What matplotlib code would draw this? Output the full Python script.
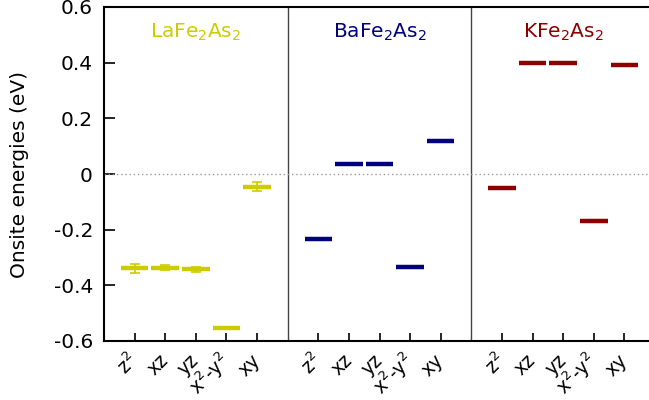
import matplotlib
matplotlib.use("Agg")
import matplotlib.pyplot as plt
import numpy as np

orbitals = ["z$^2$", "xz", "yz", "x$^2$-y$^2$", "xy"]
compounds = ["LaFe$_2$As$_2$", "BaFe$_2$As$_2$", "KFe$_2$As$_2$"]
colors = ["#cccc00", "#00007f", "#8b0000"]

la_vals = [-0.338, -0.336, -0.342, -0.552, -0.045]
la_err = [0.016, 0.009, 0.009, 0.0, 0.017]
ba_vals = [-0.232, 0.035, 0.035, -0.334, 0.118]
k_vals = [-0.052, 0.400, 0.400, -0.170, 0.390]

values = [la_vals, ba_vals, k_vals]
errors = [la_err, None, None]

W, H = 649, 400
fig = plt.figure(figsize=(W / 100, H / 100), dpi=100)
left, right, top, bottom = 104, 655, 7, 341
ax = fig.add_axes([left / W, 1 - bottom / H, (right - left) / W, (bottom - top) / H])

fs = 14.5
positions = []
labels = []
for g in range(3):
    xs = np.arange(1, 6) + 6 * g
    ax.hlines(values[g], xs - 0.45, xs + 0.45, colors=colors[g], lw=3.2, zorder=3)
    if errors[g] is not None:
        ax.errorbar(xs, values[g], yerr=errors[g], fmt="none", ecolor=colors[g],
                    elinewidth=1.2, capsize=3.3, capthick=1.2, zorder=3)
    ax.text(3 + 6 * g, 0.51, compounds[g], color=colors[g], ha="center", va="center",
            fontsize=fs)
    positions.extend(xs)
    labels.extend(orbitals)

for xsep in (6, 12):
    ax.axvline(xsep, color="#444444", lw=1.0)
ax.axhline(0, color="#999999", lw=1.0, ls=(0, (1, 2)))

ax.set_xlim(0, 18)
ax.set_ylim(-0.6, 0.6)
ax.set_yticks([-0.6, -0.4, -0.2, 0, 0.2, 0.4, 0.6])
ax.set_yticklabels(["-0.6", "-0.4", "-0.2", "0", "0.2", "0.4", "0.6"], fontsize=fs)
ax.set_xticks(positions)
ax.set_xticklabels(labels, fontsize=fs - 1, rotation=45, ha="right", va="center",
                   rotation_mode="anchor")
ax.tick_params(axis="x", direction="in", length=6, width=1.2, pad=12)
ax.tick_params(axis="y", direction="in", length=8, width=1.2, pad=8)
for s in ("left", "bottom", "top", "right"):
    ax.spines[s].set_linewidth(1.5)
ax.set_ylabel("Onsite energies (eV)", fontsize=fs, labelpad=18)

fig.savefig("out.png", dpi=100)
